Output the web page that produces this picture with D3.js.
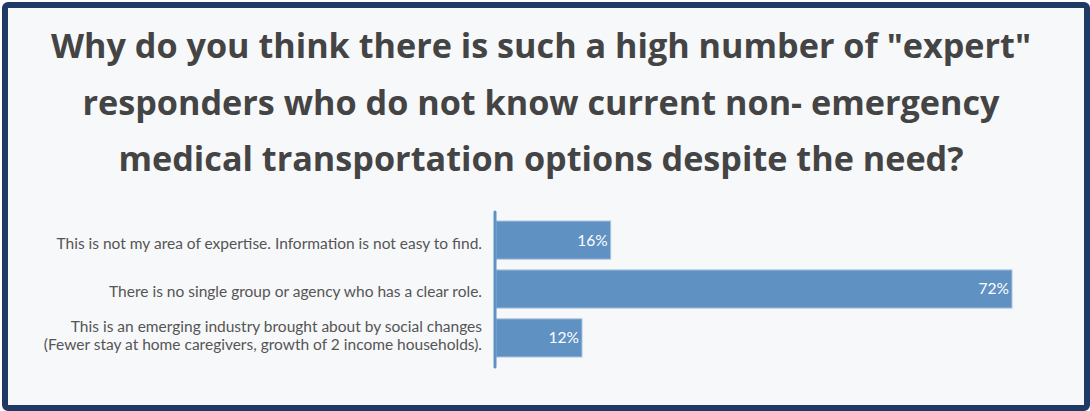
<!DOCTYPE html>
<html>
<head>
<meta charset="utf-8">
<script src="https://cdn.jsdelivr.net/npm/d3@7"></script>
<style>
  html, body { margin: 0; padding: 0; background: #ffffff; }
  svg { display: block; }
</style>
</head>
<body>
<svg id="chart" width="1090" height="411"></svg>
<script>
// Survey question and answers
const titleLines = [
  'Why do you think there is such a high number of "expert"',
  'responders who do not know current non- emergency',
  'medical transportation options despite the need?'
];
const categories = [
  ["This is not my area of expertise. Information is not easy to find."],
  ["There is no single group or agency who has a clear role."],
  ["This is an emerging industry brought about by social changes",
   "(Fewer stay at home caregivers, growth of 2 income households)."]
];
const values = [16, 72, 12];
const valueLabels = ["16%", "72%", "12%"];

const svg = d3.select("#chart");
const W = 1090, H = 411;

// Framed panel
svg.append("rect")
  .attr("x", 5).attr("y", 5)
  .attr("width", W - 8).attr("height", H - 8)
  .attr("rx", 3)
  .attr("fill", "#f7f8fa")
  .attr("stroke", "#1f3a64")
  .attr("stroke-width", 6);

// Title
const title = svg.append("text")
  .attr("text-anchor", "middle")
  .attr("font-family", "'Open Sans', sans-serif")
  .attr("font-weight", 700)
  .attr("font-size", 34.2)
  .attr("fill", "#444444");
titleLines.forEach((line, i) => {
  title.append("tspan")
    .attr("x", 541)
    .attr("y", 58 + i * 56.5)
    .text(line);
});

// Bar chart
const margin = { left: 495, right: 1012, top: 212, bottom: 367 };
const x = d3.scaleLinear()
  .domain([0, d3.max(values)])
  .range([margin.left + 1, margin.right]);
const y = d3.scaleBand()
  .domain(d3.range(values.length))
  .range([margin.top + 9, margin.bottom - 10])
  .paddingInner(0.22)
  .paddingOuter(0);

const g = svg.append("g");

g.selectAll("rect.bar")
  .data(values)
  .join("rect")
  .attr("class", "bar")
  .attr("x", x(0))
  .attr("y", (d, i) => y(i))
  .attr("width", d => x(d) - x(0))
  .attr("height", y.bandwidth())
  .attr("fill", "#5f91c3")
  .attr("stroke", "#a9c3df")
  .attr("stroke-width", 1);

g.selectAll("text.val")
  .data(values)
  .join("text")
  .attr("class", "val")
  .attr("x", d => x(d) - 3)
  .attr("y", (d, i) => y(i) + y.bandwidth() / 2)
  .attr("dy", "0.35em")
  .attr("text-anchor", "end")
  .attr("font-family", "'Lato', sans-serif")
  .attr("font-size", 15.5)
  .attr("fill", "#ffffff")
  .text((d, i) => valueLabels[i]);

// Category axis line
g.append("line")
  .attr("x1", margin.left).attr("x2", margin.left)
  .attr("y1", margin.top).attr("y2", margin.bottom)
  .attr("stroke", "#5f91c3")
  .attr("stroke-width", 3)
  .attr("stroke-linecap", "round");

// Category labels
const labelShift = [3, 3, -2];
const labels = g.selectAll("text.cat")
  .data(categories)
  .join("text")
  .attr("class", "cat")
  .attr("text-anchor", "end")
  .attr("font-family", "'Lato', sans-serif")
  .attr("font-size", 15.5)
  .attr("fill", "#555555");
labels.each(function (lines, i) {
  const cy = y(i) + y.bandwidth() / 2 + labelShift[i];
  const t = d3.select(this);
  lines.forEach((ln, j) => {
    t.append("tspan")
      .attr("x", 482)
      .attr("y", cy + (j - (lines.length - 1) / 2) * 18)
      .attr("dy", "0.35em")
      .text(ln);
  });
});
</script>
</body>
</html>
